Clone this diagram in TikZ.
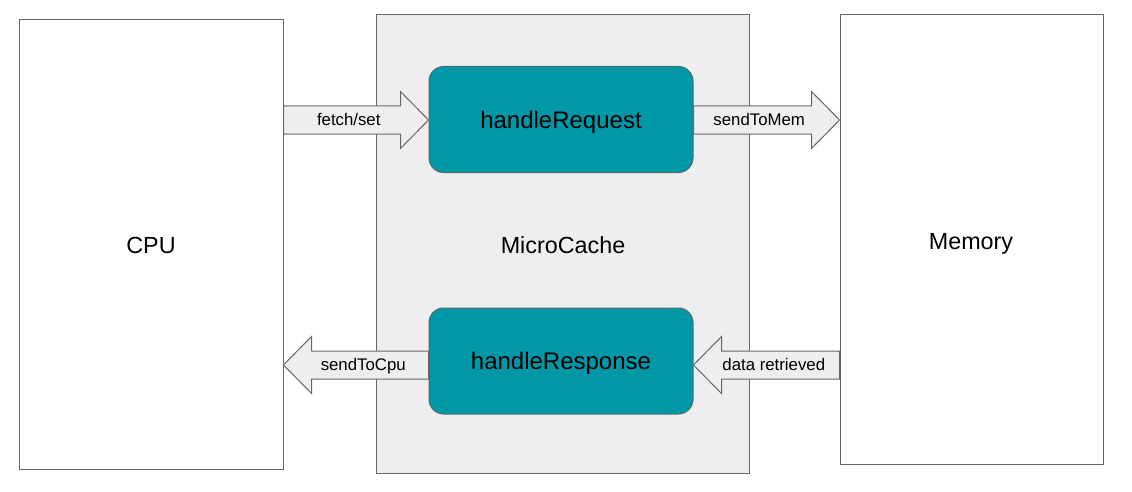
\documentclass[tikz,border=0pt]{standalone}
\usepackage{fontspec}
\setmainfont{Liberation Sans}
\usetikzlibrary{calc}
\definecolor{boxline}{HTML}{666666}
\definecolor{cachefill}{HTML}{EEEEEE}
\definecolor{tealfill}{HTML}{0097A7}
\definecolor{tealline}{HTML}{4D6D70}
\tikzset{
  plainbox/.style={draw=boxline, line width=0.75pt, fill=white, rectangle, inner sep=0pt},
  cachebox/.style={draw=boxline, line width=0.75pt, fill=cachefill, rectangle, inner sep=0pt},
  procbox/.style={draw=tealline, line width=0.75pt, fill=tealfill, rounded corners=11pt, inner sep=0pt,
    minimum width=198pt, minimum height=79.5pt, text height=13.2pt, text depth=0pt,
    font=\fontsize{18}{21}\selectfont},
  bigtxt/.style={font=\fontsize{17.5}{20}\selectfont, inner sep=0pt, anchor=base},
  blk/.style={draw=boxline, line width=0.75pt, fill=cachefill, line join=miter},
  arrlbl/.style={font=\fontsize{12.6}{15}\selectfont, inner sep=0pt, anchor=base},
}
\begin{document}
\begin{tikzpicture}[x=0.75pt, y=-0.75pt]
\useasboundingbox (0,0) rectangle (1132,492);
% main boxes
\node[plainbox, minimum width=198pt, minimum height=336.75pt] (cpu) at (151,244.5) {};
\node[cachebox, minimum width=279.75pt, minimum height=343.5pt] (cache) at (562.5,244) {};
\node[plainbox, minimum width=197.25pt, minimum height=336.75pt] (mem) at (971.5,239.5) {};
\node[bigtxt] (cpulbl) at (151,253.7) {CPU};
\node[bigtxt] (cachelbl) at (563,253.7) {MicroCache};
\node[bigtxt] (memlbl) at (971,249.3) {Memory};
% processes
\node[procbox] (req) at (561,119.5) {handleRequest};
\node[procbox] (resp) at (561,361) {handleResponse};
% rows of arrows
\coordinate (uprow) at (0,120);
\coordinate (lowrow) at (0,365);
\coordinate (t1) at (cpu.east |- uprow);
\coordinate (h1) at (req.west |- uprow);
\coordinate (t2) at (req.east |- uprow);
\coordinate (h2) at (mem.west |- uprow);
\coordinate (t3) at (resp.west |- lowrow);
\coordinate (h3) at (cpu.east |- lowrow);
\coordinate (t4) at (mem.west |- lowrow);
\coordinate (h4) at (resp.east |- lowrow);
% right-pointing block arrows
\foreach \t/\h in {t1/h1, t2/h2}{
  \draw[blk] ($(\t)+(0,-14)$) -- ($(\h)+(-28,-14)$) -- ($(\h)+(-28,-28.5)$) -- (\h)
    -- ($(\h)+(-28,28.5)$) -- ($(\h)+(-28,14)$) -- ($(\t)+(0,14)$) -- cycle;
}
% left-pointing block arrows
\foreach \t/\h in {t3/h3, t4/h4}{
  \draw[blk] ($(\t)+(0,-14)$) -- ($(\h)+(28,-14)$) -- ($(\h)+(28,-28.5)$) -- (\h)
    -- ($(\h)+(28,28.5)$) -- ($(\h)+(28,14)$) -- ($(\t)+(0,14)$) -- cycle;
}
\node[arrlbl] (l1) at ($(t1)!0.45!(h1)+(0,5.8)$) {fetch/set};
\node[arrlbl] (l2) at ($(t2)!0.45!(h2)+(0,5.8)$) {sendToMem};
\node[arrlbl] (l3) at ($(t3)!0.45!(h3)+(0,5.8)$) {sendToCpu};
\node[arrlbl] (l4) at ($(t4)!0.45!(h4)+(0,5.8)$) {data retrieved};
\end{tikzpicture}
\end{document}
